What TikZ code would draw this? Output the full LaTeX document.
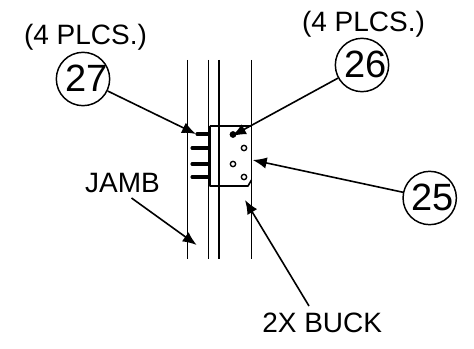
\documentclass[tikz,border=0pt]{standalone}
\usepackage{fontspec}
\setmainfont{Liberation Sans}
\usetikzlibrary{arrows.meta}
\tikzset{
  lbl/.style={anchor=base,inner sep=0pt,font=\fontsize{21}{24}\selectfont},
  num/.style={anchor=base,inner sep=0pt,font=\fontsize{28.5}{32}\selectfont},
  bubble/.style={circle,draw,line width=1.1pt,minimum size=40pt,inner sep=0pt},
  leader/.style={draw,line width=1.2pt,-{Latex[length=10.5pt,width=8.5pt]}},
  wall/.style={line width=1.2pt},
  plate/.style={line width=1.2pt,line join=round},
  screw/.style={line width=2.3pt,line cap=round},
  hole/.style={circle,draw,line width=1pt,minimum size=4pt,inner sep=0pt}
}
\begin{document}
\begin{tikzpicture}[x=0.75pt,y=-0.75pt]
\useasboundingbox (0,0) rectangle (474,349);
% wall lines
\draw[wall] (187.5,60) -- (187.5,259);
\draw[wall] (208.5,60) -- (208.5,259);
\draw[wall] (219,60) -- (219,259);
\draw[wall] (251.5,60) -- (251.5,259);
% bracket
\draw[plate] (210,126) -- (251.5,126) (251.5,180) -- (248,186) -- (210,186) -- (210,126);
% screws
\draw[screw] (197,134) -- (208,134);
\draw[screw] (192,148) -- (208,148);
\draw[screw] (192,164) -- (208,164);
\draw[screw] (192,177) -- (208,177);
% holes
\node[hole,fill=black] (h1) at (233,134.5) {};
\node[hole] (h2) at (244,148) {};
\node[hole] (h3) at (233,164) {};
\node[hole] (h4) at (244,177) {};
% labels
\node[lbl] (p1) at (85.5,45) {(4 PLCS.)};
\node[lbl] (p2) at (363.5,32) {(4 PLCS.)};
\node[lbl] (jamb) at (122.5,192.7) {JAMB};
\node[lbl,anchor=base west] (buck) at (262,332.7) {2X BUCK};
% bubbles
\node[bubble] (c27) at (83,79) {};
\node[bubble] (c26) at (362,65) {};
\node[bubble] (c25) at (429.7,198) {};
\node[num] (n27) at (86.7,91.7) {27};
\node[num] (n26) at (365.3,78) {26};
\node[num] (n25) at (432.7,210) {25};
% leader targets
\coordinate (t27) at (196,134);
\coordinate (t26) at (232,136);
\coordinate (t25) at (252.7,160);
\coordinate (s1) at (131.5,198);
\coordinate (t1) at (196.7,245);
\coordinate (s2) at (309,306);
\coordinate (t2) at (245,200);
\draw[leader] (c27) -- (t27);
\draw[leader] (c26) -- (t26);
\draw[leader] (c25) -- (t25);
\draw[leader] (s1) -- (t1);
\draw[leader] (s2) -- (t2);
\end{tikzpicture}
\end{document}
